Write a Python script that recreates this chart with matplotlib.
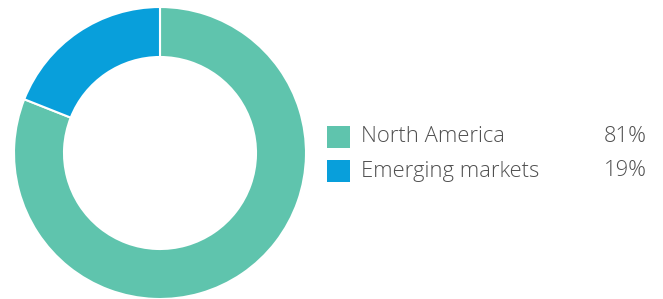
import matplotlib.pyplot as plt
from matplotlib.patches import Rectangle

# DATA
regions = ["North America", "Emerging markets"]
shares = [81, 19]
colors = ["#5fc4ad", "#089fdb"]

# FIGURE IN PIXEL COORDS
fig = plt.figure(figsize=(6.63, 2.99), dpi=100)
ax = fig.add_axes([0, 0, 1, 1])
ax.set_xlim(0, 663)
ax.set_ylim(0, 299)
ax.set_aspect('equal')
ax.axis('off')

# DONUT
ax.pie(shares, colors=colors, startangle=90, counterclock=False,
       center=(160, 146), radius=146,
       wedgeprops=dict(width=50, edgecolor='white', linewidth=1.5))
ax.set_xlim(0, 663)
ax.set_ylim(0, 299)

# LEGEND
rows_y = [137, 171]
for name, val, col, y in zip(regions, shares, colors, rows_y):
    ax.add_patch(Rectangle((327, 299 - y - 11), 23, 22, color=col, lw=0))
    ax.text(361, 299 - y, name, fontsize=15.8, color='#505050',
            family='Open Sans', fontweight='light', va='center', ha='left')
    ax.text(647, 299 - y, f"{val}%", fontsize=15.8, color='#505050',
            family='Open Sans', fontweight='light', va='center', ha='right')

plt.savefig("out.png", dpi=100)
